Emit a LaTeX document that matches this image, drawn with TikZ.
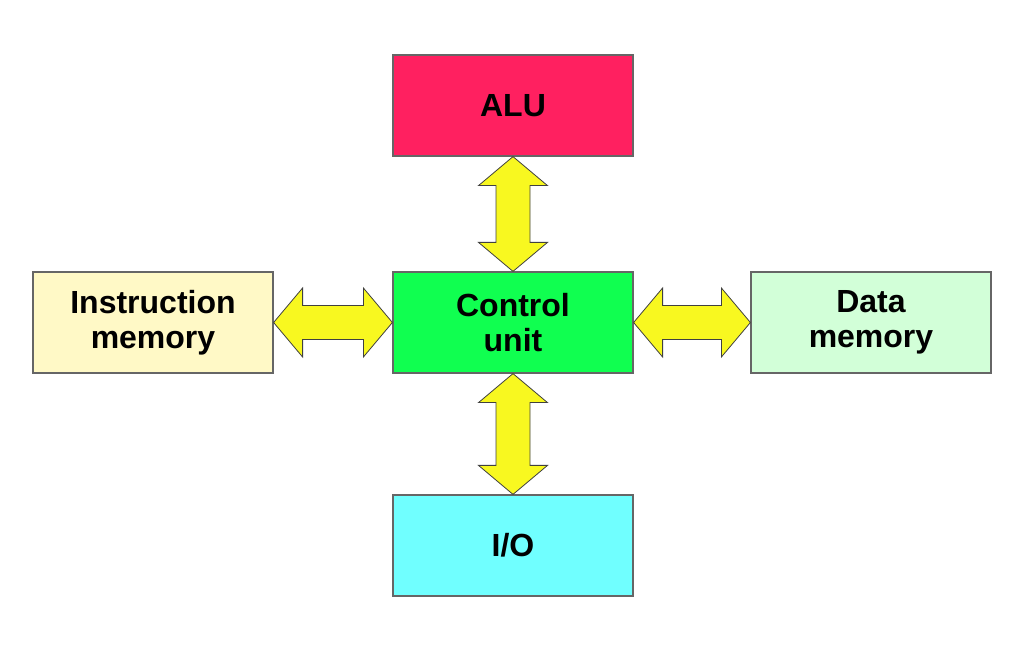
\documentclass[tikz,border=0pt]{standalone}
\usepackage{fontspec}
\setmainfont{Liberation Sans}
\usepackage{tikz}
\usetikzlibrary{calc,positioning}

\definecolor{alured}{HTML}{FF2060}
\definecolor{cugreen}{HTML}{10FF50}
\definecolor{iocyan}{HTML}{70FFFF}
\definecolor{imyellow}{HTML}{FFF9C6}
\definecolor{dmgreen}{HTML}{D2FFD8}
\definecolor{busyellow}{HTML}{F8F820}

\tikzset{
  unit/.style={draw=black!60, line width=0.6pt, minimum width=120pt, minimum height=50.5pt,
    align=center, font=\fontsize{16}{17.75}\selectfont\bfseries, inner sep=0pt},
  bus/.style={draw=black!75, fill=busyellow, line width=0.4pt, line join=miter}
}

% double arrows between two units
\newcommand{\vbus}[2]{\draw[bus] (#1.south) -- ++(34.5,29) -- ++(-17.5,0) -- ($(#2.north)+(17,-29)$) -- ++(17.5,0) -- (#2.north) -- ++(-34.5,-29) -- ++(17.5,0) -- ($(#1.south)+(-17,29)$) -- ++(-17.5,0) -- cycle;}
\newcommand{\hbus}[2]{\draw[bus] (#1.east) -- ++(29,-34.5) -- ++(0,17.5) -- ($(#2.west)+(-29,-17)$) -- ++(0,-17.5) -- (#2.west) -- ++(-29,34.5) -- ++(0,-17.5) -- ($(#1.east)+(29,17)$) -- ++(0,17.5) -- cycle;}

\begin{document}
\begin{tikzpicture}[x=0.5pt,y=-0.5pt]
\useasboundingbox (0,0) rectangle (1024,652);
\node[unit, fill=alured] (alu) at (513,105.5) {ALU};
\node[unit, fill=cugreen] (cu) at (513,322.5) {Control\\unit};
\node[unit, fill=iocyan] (io) at (513,545.5) {I/O};
\node[unit, fill=imyellow] (im) at (153,322.5) {Instruction\\memory};
\node[unit, fill=dmgreen] (dm) at (871,322.5) {Data\\memory};
\vbus{alu}{cu}
\vbus{cu}{io}
\hbus{im}{cu}
\hbus{cu}{dm}
\end{tikzpicture}
\end{document}
